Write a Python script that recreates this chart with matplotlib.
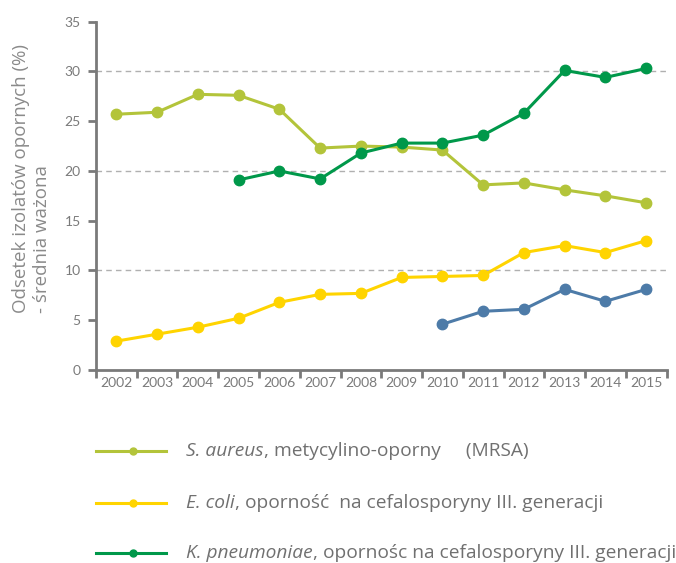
import numpy as np
import matplotlib.pyplot as plt
from matplotlib.lines import Line2D

plt.rcParams['font.family'] = ['Lato', 'DejaVu Sans']

# dane
lata = ['2002', '2003', '2004', '2005', '2006', '2007', '2008',
        '2009', '2010', '2011', '2012', '2013', '2014', '2015']
s_aureus = [25.7, 25.9, 27.7, 27.6, 26.2, 22.3, 22.5,
            22.4, 22.1, 18.6, 18.8, 18.1, 17.5, 16.8]
e_coli = [2.9, 3.6, 4.3, 5.2, 6.8, 7.6, 7.7,
          9.3, 9.4, 9.5, 11.8, 12.5, 11.8, 13.0]
k_pneu_lata = lata[3:]
k_pneumoniae = [19.1, 20.0, 19.2, 21.8, 22.8, 22.8, 23.6, 25.8, 30.1, 29.4, 30.3]
inne_lata = lata[8:]
inne = [4.6, 5.9, 6.1, 8.1, 6.9, 8.1]

kolory = {'sa': '#b3c43a', 'ec': '#ffd400', 'kp': '#00984a', 'in': '#4d7ba8'}
szary = '#7a7a7a'
font_opis = ['Open Sans', 'DejaVu Sans']

fig = plt.figure(figsize=(6.76, 5.63), dpi=100)
ax = fig.add_axes([0.142, 0.3428, 0.844, 0.6187])

x_all = np.arange(len(lata))
idx = {r: i for i, r in enumerate(lata)}

def rysuj(lata_s, wart, kolor):
    xs = [idx[r] for r in lata_s]
    ax.plot(xs, wart, color=kolor, lw=2.2, marker='o', ms=7.5, zorder=3)

rysuj(lata, e_coli, kolory['ec'])
rysuj(inne_lata, inne, kolory['in'])
rysuj(lata, s_aureus, kolory['sa'])
rysuj(k_pneu_lata, k_pneumoniae, kolory['kp'])

ax.set_xlim(-0.5, len(lata) - 0.5)
ax.set_ylim(0, 35)
ax.set_yticks(range(0, 36, 5))
for g in [10, 20, 30]:
    ax.axhline(g, color='#b0b0b0', lw=1, ls=(0, (4, 3)), zorder=1)

ax.set_xticks(x_all)
ax.set_xticklabels(lata)
ax.set_xticks(np.arange(-0.5, len(lata)), minor=True)
ax.tick_params(axis='x', which='major', length=0, pad=5, labelsize=10, labelcolor=szary)
ax.tick_params(axis='x', which='minor', length=6, width=2, color=szary, direction='out')
ax.tick_params(axis='y', length=6, width=2, color=szary, labelsize=10, labelcolor=szary, pad=5)

for s in ['top', 'right']:
    ax.spines[s].set_visible(False)
for s in ['left', 'bottom']:
    ax.spines[s].set_color(szary)
    ax.spines[s].set_linewidth(2)

ax.set_ylabel('Odsetek izolatów opornych (%)\n- średnia ważona', family=font_opis,
              fontsize=13.5, color='#8a8a8a', linespacing=1.25, multialignment='left')
ax.yaxis.set_label_coords(-0.078, 0.55)

# legenda
legenda = [
    (kolory['sa'], 'S. aureus', ', metycylino-oporny     (MRSA)'),
    (kolory['ec'], 'E. coli', ', oporność  na cefalosporyny III. generacji'),
    (kolory['kp'], 'K. pneumoniae', ', opornośc na cefalosporyny III. generacji'),
]
W, H = 676, 563
ys = [451, 503, 553]
fig.canvas.draw()
r = fig.canvas.get_renderer()
for (kol, kursywa, reszta), yp in zip(legenda, ys):
    yf = 1 - yp / H
    fig.add_artist(Line2D([96 / W, 166 / W], [yf, yf], color=kol, lw=2.2,
                          transform=fig.transFigure))
    fig.add_artist(Line2D([133 / W], [yf], color=kol, marker='o', ms=5,
                          transform=fig.transFigure))
    t = fig.text(186 / W, yf, kursywa, style='italic', fontsize=13.8, family=font_opis,
                 color='#707070', va='center')
    bb = t.get_window_extent(renderer=r)
    fig.text(bb.x1 / W, yf, reszta, fontsize=13.8, color='#707070', va='center',
             family=font_opis)

fig.savefig('out.png', dpi=100)
